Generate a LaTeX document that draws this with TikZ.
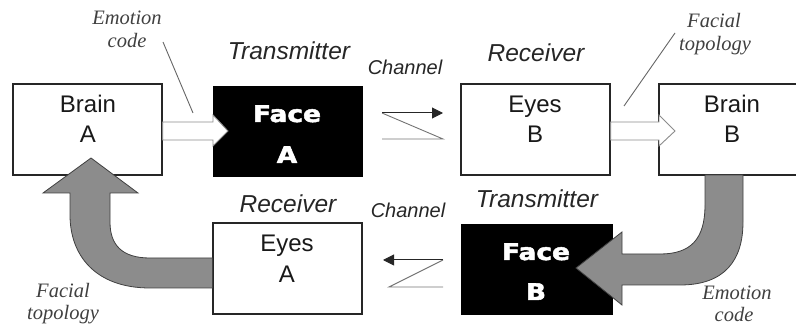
\documentclass[tikz,border=0pt]{standalone}
\usepackage{fontspec}
\setmainfont{Liberation Serif}
\setsansfont{Liberation Sans}
\newfontfamily\heavyfont[FakeBold=2]{DejaVu Sans}
\usetikzlibrary{arrows.meta}
\begin{document}
\begin{tikzpicture}[x=1pt,y=-1pt,
  box/.style={draw=black!85, line width=1.1pt, fill=white, inner sep=0pt, minimum height=91pt},
  dark/.style={fill=black, draw=black, inner sep=0pt, minimum height=90pt},
  lab/.style={font=\sffamily\itshape\fontsize{24.5}{26}\selectfont, text=black!85, inner sep=0pt, anchor=base},
  chan/.style={font=\sffamily\itshape\fontsize{20}{24}\selectfont, text=black!85, inner sep=0pt, anchor=base},
  note/.style={font=\rmfamily\itshape\fontsize{20.5}{25}\selectfont, text=black!75, inner sep=0pt, anchor=base},
  boxtxt/.style={font=\sffamily\fontsize{24}{30}\selectfont, text=black!90, inner sep=0pt, anchor=base},
  facetxt/.style={font=\heavyfont\bfseries\fontsize{23}{26}\selectfont, text=white, inner sep=0pt, anchor=base},
  hollow/.style={draw=black!45, line width=0.9pt, fill=white},
  bigarrow/.style={draw=black!75, line width=0.8pt, fill=black!45},
  thin/.style={draw=black!60, line width=0.9pt},
  chanline/.style={draw=black!55, line width=0.9pt},
  chanarrow/.style={draw=black!85, line width=1pt, -{Triangle[length=11pt,width=11pt]}},
]
\useasboundingbox (0,0) rectangle (796,331);

% boxes
\node[box, minimum width=149pt] (brainA) at (87.5,129.5) {};
\node[dark, minimum width=149pt] (faceA) at (287.5,131) {};
\node[box, minimum width=149pt] (eyesB) at (535.5,129.5) {};
\node[box, minimum width=146pt] (brainB) at (732,129.5) {};
\node[box, minimum width=149pt] (eyesA) at (287.5,268.5) {};
\node[dark, minimum width=151pt] (faceB) at (536.5,269) {};

% hollow arrows
\path[hollow] (brainA.east |- 0,122) -- (213,122) -- (213,115) -- (228,131) -- (213,146) -- (213,140) -- (brainA.east |- 0,140) -- cycle;
\path[hollow] (eyesB.east |- 0,122) -- (659,122) -- (659,115) -- (675,131) -- (659,146) -- (659,140) -- (eyesB.east |- 0,140) -- cycle;

% big gray curved arrows
\path[bigarrow] (eyesA.west |- 0,288) -- (150,288) .. controls (95,288) and (70,255) .. (70,215) -- (70,193) -- (43,193) -- (91,158) -- (138,193) -- (110,193) -- (110,222) .. controls (110,245) and (122,258) .. (150,258) -- (eyesA.west |- 0,258) -- cycle;
\path[bigarrow] (705,175) -- (705,205) .. controls (705,240) and (690,254) .. (660,254) -- (622,254) -- (622,232) -- (576,268) -- (622,305) -- (622,285) -- (680,285) .. controls (725,285) and (743,260) .. (743,222) -- (743,175) -- cycle;

% box texts
\node[boxtxt] (brainAt) at (88,113) {Brain};
\node[boxtxt] (brainAl) at (88,143) {A};
\node[facetxt] (faceAt) at (287,122) {\scalebox{1.15}[1]{Face}};
\node[facetxt] (faceAl) at (287,163) {\scalebox{1.15}[1]{A}};
\node[boxtxt] (eyesBt) at (535,113) {Eyes};
\node[boxtxt] (eyesBl) at (535,143) {B};
\node[boxtxt] (brainBt) at (732,113) {Brain};
\node[boxtxt] (brainBl) at (732,143) {B};
\node[boxtxt] (eyesAt) at (287,252) {Eyes};
\node[boxtxt] (eyesAl) at (287,283) {A};
\node[facetxt] (faceBt) at (536,260) {\scalebox{1.15}[1]{Face}};
\node[facetxt] (faceBl) at (536,300) {\scalebox{1.15}[1]{B}};

% role labels
\node[lab] (trA) at (289,60) {Transmitter};
\node[chan] (chT) at (405,75) {Channel};
\node[lab] (reB) at (536,62) {Receiver};
\node[lab] (reA) at (288,213) {Receiver};
\node[chan] (chB) at (408,218) {Channel};
\node[lab] (trB) at (537,208) {Transmitter};

% notes
\node[note] (emo1) at (127,25) {Emotion};
\node[note] (code1) at (127,48) {code};
\node[note] (fac1) at (714,28) {Facial};
\node[note] (top1) at (715,51) {topology};
\node[note] (fac2) at (63,298) {Facial};
\node[note] (top2) at (63,320) {topology};
\node[note] (emo2) at (737,300) {Emotion};
\node[note] (code2) at (734,322) {code};

% pointer lines
\coordinate (p1) at (163,42);
\coordinate (p1e) at (193,113);
\coordinate (p2) at (675,33);
\coordinate (p2e) at (624,106);
\draw[thin] (p1) -- (p1e);
\draw[thin] (p2) -- (p2e);

% channel top
\coordinate (c1a) at (382,139);
\coordinate (c1b) at (443,139);
\coordinate (c1c) at (382,113);
\coordinate (c1d) at (443,113);
\draw[chanline] (c1a) -- (c1b) -- (c1c);
\draw[chanarrow] (c1c) -- (c1d);

% channel bottom
\coordinate (c2a) at (443,287);
\coordinate (c2b) at (389,287);
\coordinate (c2c) at (443,260);
\coordinate (c2d) at (383,260);
\draw[chanline] (c2a) -- (c2b) -- (c2c);
\draw[chanarrow] (c2c) -- (c2d);
\end{tikzpicture}
\end{document}
